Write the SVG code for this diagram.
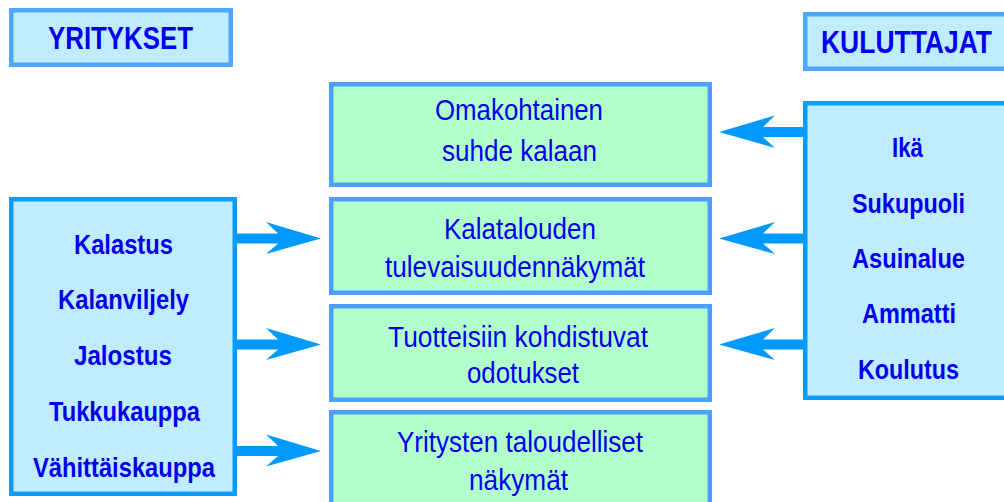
<svg xmlns="http://www.w3.org/2000/svg" width="1004" height="502" viewBox="0 0 1004 502">
<style>
.hdr{fill:#C0ECFF;stroke:#4DA6FF;stroke-width:4.5}
.big{fill:#C0ECFF;stroke:#0A9BFF;stroke-width:4.5}
.grn{fill:#B3FFCC;stroke:#4D9FFF;stroke-width:4.5}
text{font-family:"Liberation Sans Narrow","Liberation Sans",Arial,sans-serif;fill:#0000EE;text-anchor:middle}
.b{font-weight:bold;font-size:27px}
.h{font-weight:bold;font-size:31px}
.n{font-size:29px}
.arr{fill:#0099FF}
</style>
<g id="yritykset">
<rect class="hdr" x="11.25" y="10.25" width="219.5" height="54.5"/>
<text class="h" x="120.5" y="49" textLength="145" lengthAdjust="spacingAndGlyphs">YRITYKSET</text>
</g>
<g id="kuluttajat">
<rect class="hdr" x="805.25" y="14.25" width="212" height="54.5"/>
<text class="h" x="906.5" y="53" textLength="171" lengthAdjust="spacingAndGlyphs">KULUTTAJAT</text>
</g>
<g id="yritys-lista">
<rect class="big" x="11.25" y="199.25" width="223.5" height="294.5"/>
<text class="b" x="123.5" y="254" textLength="99" lengthAdjust="spacingAndGlyphs">Kalastus</text>
<text class="b" x="123.5" y="309" textLength="131" lengthAdjust="spacingAndGlyphs">Kalanviljely</text>
<text class="b" x="123" y="365" textLength="98" lengthAdjust="spacingAndGlyphs">Jalostus</text>
<text class="b" x="124.5" y="421" textLength="151" lengthAdjust="spacingAndGlyphs">Tukkukauppa</text>
<text class="b" x="124" y="477" textLength="182" lengthAdjust="spacingAndGlyphs">Vähittäiskauppa</text>
</g>
<g id="kuluttaja-lista">
<rect class="big" x="805.25" y="103.25" width="212" height="294.5"/>
<text class="b" x="907.5" y="157" textLength="31" lengthAdjust="spacingAndGlyphs">Ikä</text>
<text class="b" x="908.5" y="213" textLength="113" lengthAdjust="spacingAndGlyphs">Sukupuoli</text>
<text class="b" x="908.5" y="268" textLength="113" lengthAdjust="spacingAndGlyphs">Asuinalue</text>
<text class="b" x="909" y="323" textLength="94" lengthAdjust="spacingAndGlyphs">Ammatti</text>
<text class="b" x="908.5" y="379" textLength="101" lengthAdjust="spacingAndGlyphs">Koulutus</text>
</g>
<g id="omakohtainen">
<rect class="grn" x="331.25" y="84.25" width="378.5" height="100.5"/>
<text class="n" x="519" y="120" textLength="168" lengthAdjust="spacingAndGlyphs">Omakohtainen</text>
<text class="n" x="519.5" y="161" textLength="155" lengthAdjust="spacingAndGlyphs">suhde kalaan</text>
</g>
<g id="kalatalous">
<rect class="grn" x="331.25" y="199.25" width="378.5" height="93.5"/>
<text class="n" x="520" y="239" textLength="152" lengthAdjust="spacingAndGlyphs">Kalatalouden</text>
<text class="n" x="515" y="277" textLength="260" lengthAdjust="spacingAndGlyphs">tulevaisuudennäkymät</text>
</g>
<g id="odotukset">
<rect class="grn" x="331.25" y="306.25" width="378.5" height="93.5"/>
<text class="n" x="518" y="347" textLength="260" lengthAdjust="spacingAndGlyphs">Tuotteisiin kohdistuvat</text>
<text class="n" x="523" y="383" textLength="112" lengthAdjust="spacingAndGlyphs">odotukset</text>
</g>
<g id="taloudelliset">
<rect class="grn" x="331.25" y="412.25" width="378.5" height="100"/>
<text class="n" x="520" y="452" textLength="246" lengthAdjust="spacingAndGlyphs">Yritysten taloudelliset</text>
<text class="n" x="518.5" y="490" textLength="99" lengthAdjust="spacingAndGlyphs">näkymät</text>
</g>
<g id="connectors">
<path class="arr" d="M237 233.5H278L266 222L321 238.5L266 254L278 243.5H237Z"/>
<path class="arr" d="M237 339.5H278L266 328L321 344.5L266 360L278 349.5H237Z"/>
<path class="arr" d="M237 446H278L266 434.5L321 451L266 466.5L278 456H237Z"/>
<path class="arr" d="M803 127H763L775 115.5L719 132L775 148L763 137H803Z"/>
<path class="arr" d="M803 233.5H763L775 222L719 238.5L775 254L763 243.5H803Z"/>
<path class="arr" d="M803 339.5H763L775 328L719 344.5L775 360L763 349.5H803Z"/>
</g>
</svg>
